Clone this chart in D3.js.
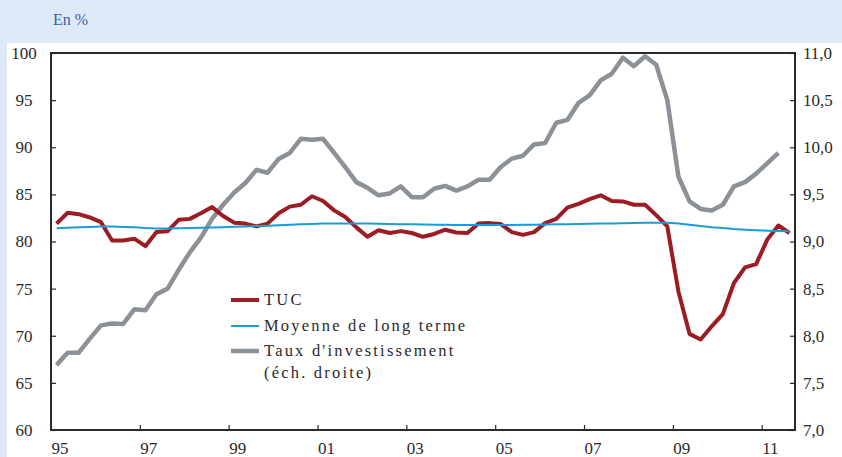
<!DOCTYPE html>
<html lang="fr">
<head>
  <meta charset="UTF-8" />
  <title>TUC et taux d'investissement</title>
  <script src="https://cdn.jsdelivr.net/npm/d3@7/dist/d3.min.js"></script>
  <style>
    body {
      margin: 0;
      background: #dde9f6;
    }
    #chart svg { display: block; }
  </style>
</head>
<body>
  <div id="chart"></div>

  <script>
    const serif = "'Liberation Serif', 'DejaVu Serif', 'Noto Serif', 'Times New Roman', Times, serif";

    // quarters 1995T1 .. 2011T3
    const years = d3.range(1995, 2012);
    const quarters = [];
    years.forEach(y => [1, 2, 3, 4].forEach(q => {
      if (y < 2011 || q <= 3) quarters.push(y + "T" + q);
    }));

    // TUC (%), left scale
    const tuc = [
      81.9, 83.05, 82.9, 82.55, 82.05, 80.1, 80.1, 80.3, 79.5, 81.0, 81.1, 82.3,
      82.4, 83.0, 83.65, 82.7, 82.0, 81.9, 81.6, 81.9, 83.0, 83.7, 83.9, 84.8,
      84.3, 83.3, 82.6, 81.5, 80.5, 81.2, 80.9, 81.1, 80.9, 80.5, 80.8, 81.25,
      80.95, 80.9, 81.9, 81.95, 81.85, 81.0, 80.7, 81.0, 81.95, 82.4, 83.6, 84.0,
      84.5, 84.9, 84.3, 84.25, 83.9, 83.9, 82.8, 81.6, 74.7, 70.2, 69.6, 71.0,
      72.3, 75.6, 77.25, 77.6, 80.2, 81.7, 80.9
    ];

    // long-term average of TUC, left scale
    const moyenne = [
      81.40, 81.45, 81.50, 81.55, 81.58, 81.60, 81.55, 81.50, 81.42, 81.38, 81.38, 81.40,
      81.42, 81.45, 81.48, 81.52, 81.56, 81.60, 81.64, 81.68, 81.72, 81.77, 81.82, 81.86,
      81.90, 81.92, 81.92, 81.92, 81.90, 81.88, 81.86, 81.84, 81.82, 81.80, 81.78, 81.77,
      81.76, 81.75, 81.75, 81.75, 81.75, 81.76, 81.77, 81.78, 81.80, 81.82, 81.84, 81.86,
      81.88, 81.90, 81.92, 81.94, 81.96, 81.98, 82.00, 81.98, 81.90, 81.78, 81.65, 81.52,
      81.42, 81.32, 81.25, 81.20, 81.15, 81.12, 81.08
    ];

    // investment rate, right scale (stops at 2011T2)
    const investissement = [
      7.69, 7.82, 7.82, 7.97, 8.11, 8.13, 8.125, 8.28, 8.27, 8.44, 8.50, 8.70,
      8.885, 9.04, 9.24, 9.39, 9.52, 9.62, 9.76, 9.73, 9.875, 9.94, 10.09, 10.08,
      10.09, 9.94, 9.79, 9.63, 9.57, 9.49, 9.51, 9.585, 9.47, 9.47, 9.56, 9.59,
      9.54, 9.585, 9.655, 9.655, 9.79, 9.88, 9.91, 10.03, 10.045, 10.26, 10.29, 10.47,
      10.55, 10.71, 10.78, 10.95, 10.86, 10.965, 10.875, 10.50, 9.69, 9.425, 9.345, 9.33,
      9.39, 9.585, 9.63, 9.72, 9.83, 9.94
    ];

    const leftTicks = [60, 65, 70, 75, 80, 85, 90, 95, 100];
    const rightTicks = [7.0, 7.5, 8.0, 8.5, 9.0, 9.5, 10.0, 10.5, 11.0];
    const yearTicks = [1995, 1997, 1999, 2001, 2003, 2005, 2007, 2009, 2011];

    const legendItems = [
      { label: ["TUC"], color: "#9b1c22", width: 4 },
      { label: ["Moyenne de long terme"], color: "#1b9bd8", width: 2 },
      { label: ["Taux d'investissement", "(éch. droite)"], color: "#8b9196", width: 4.5 }
    ];

    const width = 842, height = 457;
    const plot = { left: 51, right: 795, top: 53, bottom: 430 };

    const svg = d3.select("#chart").append("svg")
      .attr("width", width)
      .attr("height", height);

    // white panel under the blue header strip
    svg.append("rect")
      .attr("x", 7).attr("y", 43)
      .attr("width", width - 7).attr("height", height - 43)
      .attr("fill", "#fff");

    svg.append("text")
      .attr("x", 53).attr("y", 25)
      .style("font-family", serif)
      .attr("font-size", 16)
      .attr("fill", "#3b5fae")
      .text("En %");

    const x = d3.scaleBand().domain(quarters).range([plot.left, plot.right]);
    const xc = d => x(d) + x.bandwidth() / 2;
    const xYear = d3.scaleLinear()
      .domain([1995, 1995 + quarters.length / 4])
      .range([plot.left, plot.right]);

    const yL = d3.scaleLinear().domain([60, 100]).range([plot.bottom, plot.top]);
    const yR = d3.scaleLinear().domain([7, 11]).range([plot.bottom, plot.top]);

    const fmtR = d3.format(".1f");

    // axes
    const axL = svg.append("g")
      .attr("transform", `translate(${plot.left},0)`)
      .call(d3.axisLeft(yL).tickValues(leftTicks).tickSizeInner(-5).tickSizeOuter(0).tickPadding(0));
    axL.selectAll("text")
      .attr("x", -27).attr("text-anchor", "middle");

    const axR = svg.append("g")
      .attr("transform", `translate(${plot.right},0)`)
      .call(d3.axisRight(yR).tickValues(rightTicks).tickSizeInner(-5).tickSizeOuter(0)
        .tickFormat(d => fmtR(d).replace(".", ",")));
    axR.selectAll("text").attr("x", 8);

    const axB = svg.append("g")
      .attr("transform", `translate(0,${plot.bottom})`)
      .call(d3.axisBottom(xYear).tickValues(yearTicks).tickSizeInner(-5).tickSizeOuter(0)
        .tickFormat(d => String(d).slice(2)));
    axB.selectAll("text")
      .attr("y", 12).attr("text-anchor", "start");

    [axL, axR, axB].forEach(g => {
      g.attr("font-family", null);
      g.selectAll("text")
        .style("font-family", serif)
        .attr("font-size", 17)
        .attr("fill", "#2a2a2a");
      g.selectAll("line").attr("stroke", "#2a2a2a").attr("stroke-width", 1.2);
      g.select(".domain").remove();
    });

    // frame
    svg.append("rect")
      .attr("x", plot.left).attr("y", plot.top)
      .attr("width", plot.right - plot.left).attr("height", plot.bottom - plot.top)
      .attr("fill", "none")
      .attr("stroke", "#2a2a2a")
      .attr("stroke-width", 2);

    // series
    const lineL = d3.line().x((d, i) => xc(quarters[i])).y(d => yL(d));
    const lineR = d3.line().x((d, i) => xc(quarters[i])).y(d => yR(d));

    svg.append("path")
      .datum(investissement)
      .attr("d", lineR)
      .attr("fill", "none")
      .attr("stroke", legendItems[2].color)
      .attr("stroke-width", legendItems[2].width)
      .attr("stroke-linejoin", "round");

    svg.append("path")
      .datum(tuc)
      .attr("d", lineL)
      .attr("fill", "none")
      .attr("stroke", legendItems[0].color)
      .attr("stroke-width", legendItems[0].width)
      .attr("stroke-linejoin", "round");

    svg.append("path")
      .datum(moyenne)
      .attr("d", lineL)
      .attr("fill", "none")
      .attr("stroke", legendItems[1].color)
      .attr("stroke-width", legendItems[1].width);

    // legend
    const legendY = [300, 326, 351];
    const lg = svg.append("g");
    legendItems.forEach((item, i) => {
      lg.append("line")
        .attr("x1", 231).attr("x2", 259)
        .attr("y1", legendY[i]).attr("y2", legendY[i])
        .attr("stroke", item.color)
        .attr("stroke-width", item.width);
      item.label.forEach((t, j) => {
        lg.append("text")
          .attr("x", 264)
          .attr("y", legendY[i] + 5 + j * 22)
          .style("font-family", serif)
          .attr("font-size", 16.5)
          .attr("letter-spacing", 2.2)
          .attr("fill", "#2a2a2a")
          .text(t);
      });
    });
  </script>
</body>
</html>
